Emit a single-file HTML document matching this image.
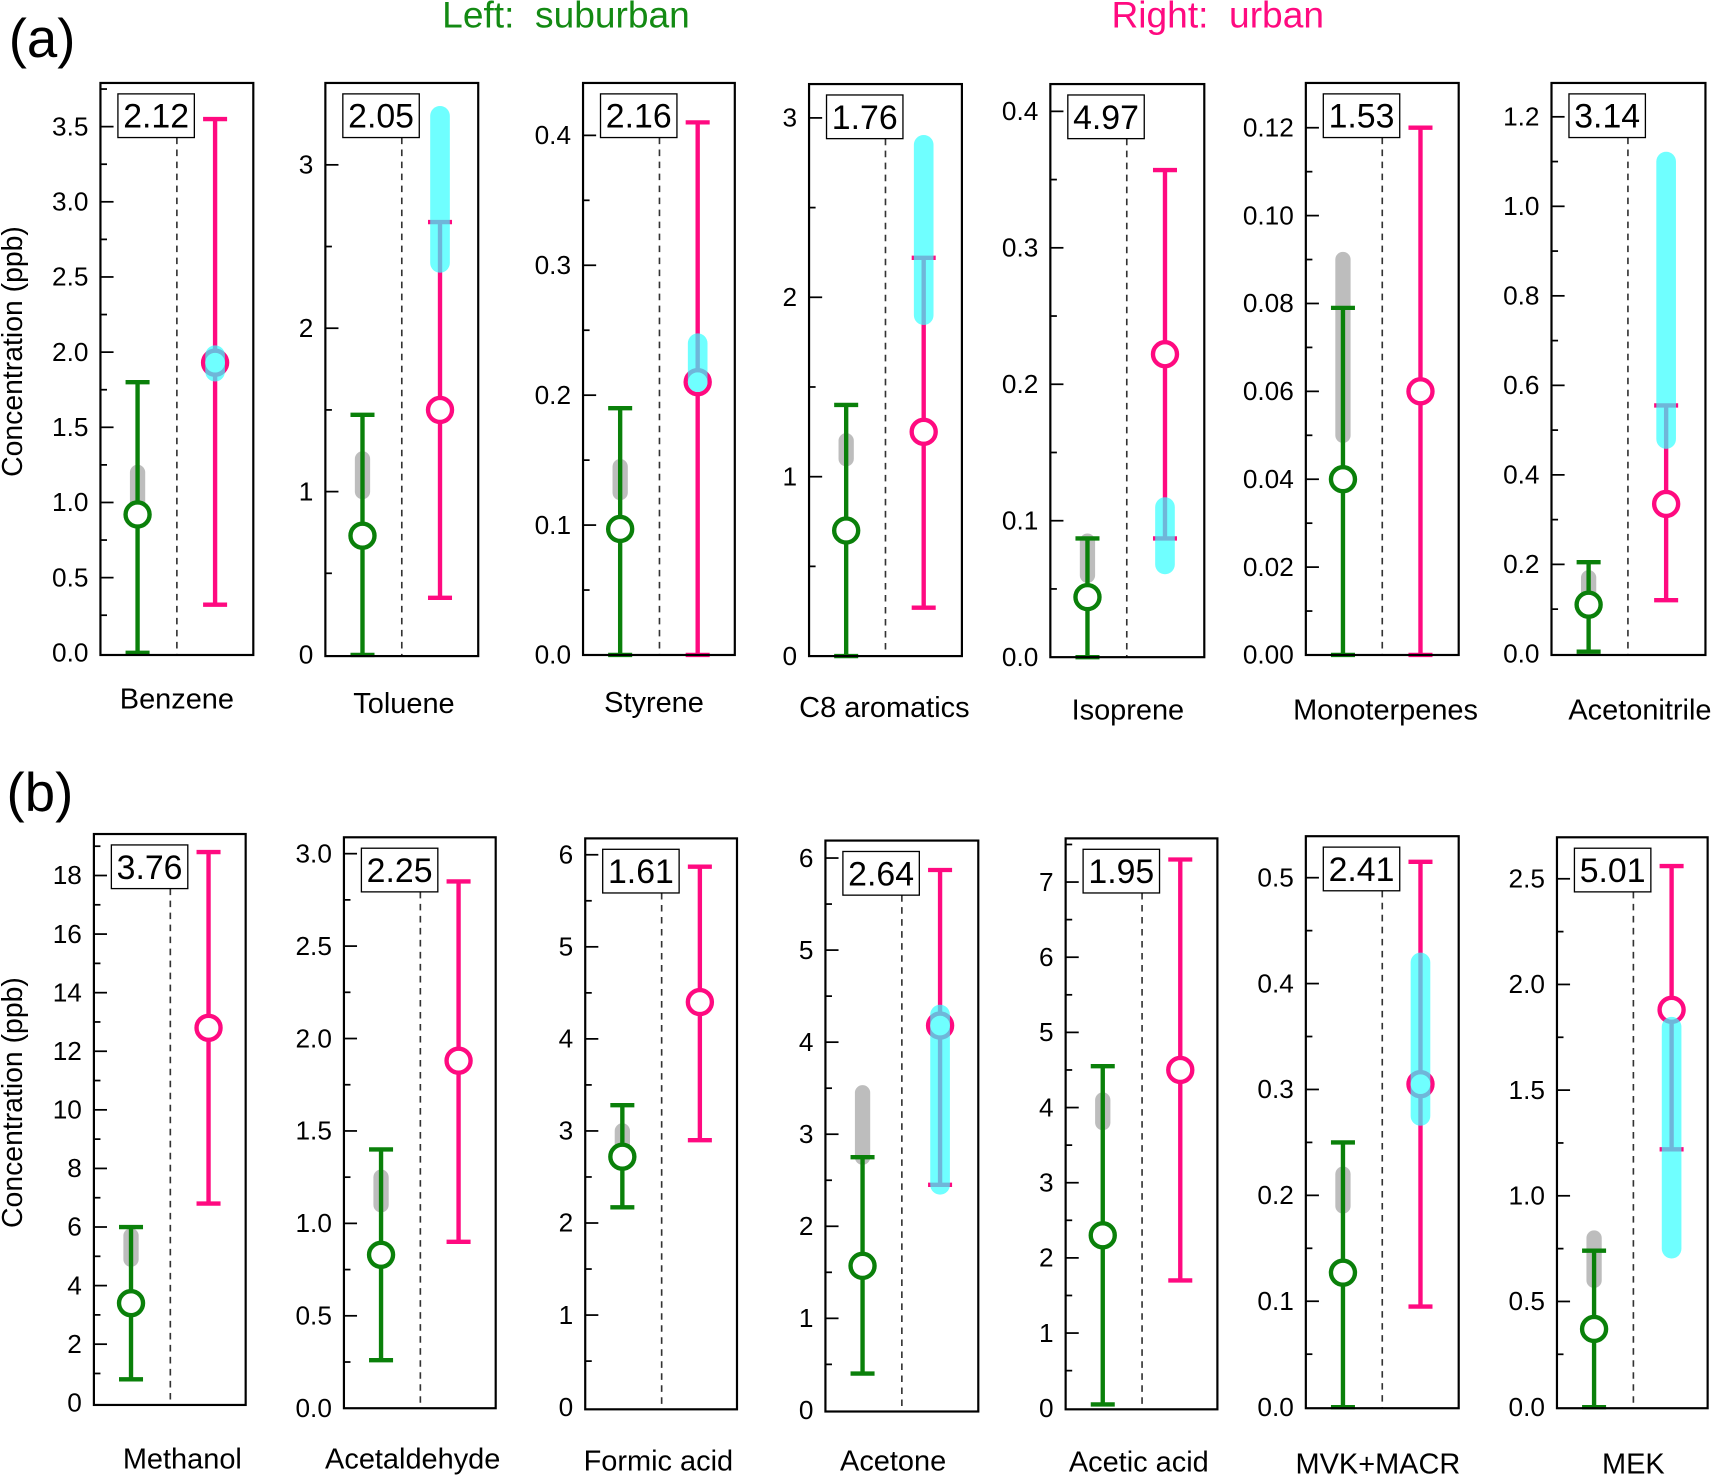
<!DOCTYPE html>
<html><head><meta charset="utf-8"><style>
html,body{margin:0;padding:0;background:#fff;}
svg{display:block;font-family:"Liberation Sans",Arial,sans-serif;}
</style></head><body>
<svg id="fig" width="1712" height="1477" viewBox="0 0 1568 1353" preserveAspectRatio="none" xmlns="http://www.w3.org/2000/svg">
<text x="8" y="52" font-size="50">(a)</text>
<text x="6" y="743" font-size="50">(b)</text>
<text x="405" y="25" font-size="34" fill="#138a13" xml:space="preserve">Left:  suburban</text>
<text x="1018" y="25" font-size="34" fill="#ff0a80" xml:space="preserve">Right:  urban</text>
<text transform="translate(20,322) rotate(-90)" text-anchor="middle" font-size="26">Concentration (ppb)</text>
<text transform="translate(20,1010) rotate(-90)" text-anchor="middle" font-size="26">Concentration (ppb)</text>
<g id="panels"></g>
</svg>
<script>
// Data arrays (values in ppb)
const species = ["Benzene","Toluene","Styrene","C8 aromatics","Isoprene","Monoterpenes","Acetonitrile",
  "Methanol","Acetaldehyde","Formic acid","Acetone","Acetic acid","MVK+MACR","MEK"];
const ratios = ["2.12","2.05","2.16","1.76","4.97","1.53","3.14","3.76","2.25","1.61","2.64","1.95","2.41","5.01"];
const subMean = [0.92,0.73,0.097,0.70,0.044,0.040,0.11, 3.4,0.83,2.72,1.57,2.30,0.127,0.37];
const subLo   = [0,0,0,0,0,0,0.005, 0.8,0.26,2.17,0.40,0.05,0,0];
const subHi   = [1.80,1.47,0.19,1.40,0.087,0.079,0.205, 6.0,1.40,3.28,2.75,4.55,0.25,0.74];
const grayLo  = [0.95,1.00,0.125,1.10,0.060,0.050,0.12, 4.9,1.10,2.70,2.75,3.80,0.19,0.60];
const grayHi  = [1.20,1.20,0.145,1.20,0.085,0.090,0.17, 5.7,1.25,3.00,3.45,4.10,0.22,0.80];
const urbMean = [1.93,1.50,0.21,1.25,0.222,0.060,0.335, 12.8,1.88,4.40,4.18,4.50,0.305,1.88];
const urbLo   = [0.32,0.35,0,0.27,0.087,0,0.12, 6.8,0.90,2.90,2.45,1.70,0.095,1.22];
const urbHi   = [3.55,2.65,0.41,2.22,0.357,0.12,0.555, 18.8,2.85,5.87,5.87,7.30,0.515,2.56];
const cyanLo  = [1.87,2.40,0.21,1.90,0.068,null,0.48, null,null,null,2.45,null,0.275,0.75];
const cyanHi  = [1.98,3.30,0.24,2.85,0.110,null,1.10, null,null,null,4.30,null,0.42,1.80];
const axisMax = [3.5,3,0.4,3,0.4,0.12,1.2, 18,3.0,6,6,7,0.5,2.5];
const tickStep= [0.5,1,0.1,1,0.1,0.02,0.2, 2,0.5,1,1,1,0.1,0.5];
const tickDec = [1,0,1,0,1,2,1, 0,1,0,0,0,1,1];
// Layout (frame geometry per panel, display px)
const frameX = [92,298,534,741,962,1196,1421, 86,315,536,756,976,1196,1426];
const frameW = [140,140,139,140,141,140,141, 139,139,139,140,139,140,138];
const frameTop=[76,76,76,77,77,76,76, 764,767,768,770,768,766,767];
const zeroY  = [598,600,600,601,602,600,599, 1285,1290,1289,1292,1290,1289,1289];
const maxY   = [116,151,124,108,102,117,107, 802,782,783,786,808,804,805];
const frameBot=[600,601,600,601,602,600,600, 1287,1290,1291,1293,1291,1290,1290];
const labelCx =[162,370,599,810,1033,1269,1502, 167,378,603,818,1043,1262,1496];
const labelBy =[649,653,652,657,659,659,659, 1345,1345,1347,1347,1348,1350,1350];

const NS="http://www.w3.org/2000/svg";
const root=document.getElementById('panels');
function mk(tag,attrs,parent){const e=document.createElementNS(NS,tag);for(const k in attrs)e.setAttribute(k,attrs[k]);(parent||root).appendChild(e);return e;}

for(let i=0;i<species.length;i++){
  const g=mk('g',{});
  
  
  const x0=frameX[i], w=frameW[i], top=frameTop[i], bot=frameBot[i];
  const y=v=>zeroY[i]-(v/axisMax[i])*(zeroY[i]-maxY[i]);
  const gx=x0+34, px=x0+105, dx=x0+70;
  const nMinor=Math.round(axisMax[i]/(tickStep[i]/2));
  for(let k=0;k<=nMinor+1;k++){
    const v=k*tickStep[i]/2; const yy=y(v);
    if(yy<top+2) break;
    const major=k%2===0;
    if(k>0){
      const t=mk('line',{x1:x0,x2:x0+(major?12:6),y1:yy,y2:yy,stroke:'#000','stroke-width':1.6},g);
      
      
    }
    if(major){
      const lb=mk('text',{x:x0-11,y:yy+8,'text-anchor':'end','font-size':24},g);
      lb.textContent=v.toFixed(tickDec[i]);
      
      
    }
  }
  const dl=mk('line',{x1:dx,x2:dx,y1:top+50,y2:bot,stroke:'#333','stroke-width':1.5,'stroke-dasharray':'6,5'},g);
  
  
  const gb=mk('line',{x1:gx,x2:gx,y1:y(grayLo[i]),y2:y(grayHi[i]),stroke:'#bdbdbd','stroke-width':14,'stroke-linecap':'round'},g);
  
  
  const ge=mk('g',{stroke:'#0a800a','stroke-width':4,fill:'none'},g);
  
  
  mk('line',{x1:gx,x2:gx,y1:y(subLo[i]),y2:y(subHi[i])},ge);
  mk('line',{x1:gx-11,x2:gx+11,y1:y(subLo[i]),y2:y(subLo[i])},ge);
  mk('line',{x1:gx-11,x2:gx+11,y1:y(subHi[i]),y2:y(subHi[i])},ge);
  const gc=mk('circle',{cx:gx,cy:y(subMean[i]),r:11,fill:'#fff',stroke:'#0a800a','stroke-width':4},g);
  
  
  const pe=mk('g',{stroke:'#ff0a80','stroke-width':4,fill:'none'},g);
  
  
  mk('line',{x1:px,x2:px,y1:y(urbLo[i]),y2:y(urbHi[i])},pe);
  mk('line',{x1:px-11,x2:px+11,y1:y(urbLo[i]),y2:y(urbLo[i])},pe);
  mk('line',{x1:px-11,x2:px+11,y1:y(urbHi[i]),y2:y(urbHi[i])},pe);
  const pc=mk('circle',{cx:px,cy:y(urbMean[i]),r:11,fill:'#fff',stroke:'#ff0a80','stroke-width':4},g);
  
  
  if(cyanLo[i]!==null){
    const cb=mk('line',{x1:px,x2:px,y1:y(cyanLo[i]),y2:y(cyanHi[i]),stroke:'#33ffff','stroke-width':18,'stroke-linecap':'round',opacity:0.7},g);
    
    
  }
  const fr=mk('rect',{x:x0,y:top,width:w,height:bot-top,fill:'none',stroke:'#000','stroke-width':2},g);
  
  
  const bx=mk('rect',{x:x0+16,y:top+10,width:70,height:40,fill:'#fff',stroke:'#000','stroke-width':1.2},g);
  
  
  const bt=mk('text',{x:x0+51,y:top+41,'text-anchor':'middle','font-size':31},g);
  bt.textContent=ratios[i];
  
  
  const cl=mk('text',{x:labelCx[i],y:labelBy[i],'text-anchor':'middle','font-size':26.5},g);
  cl.textContent=species[i];
  
  
}
</script>
</body></html>
